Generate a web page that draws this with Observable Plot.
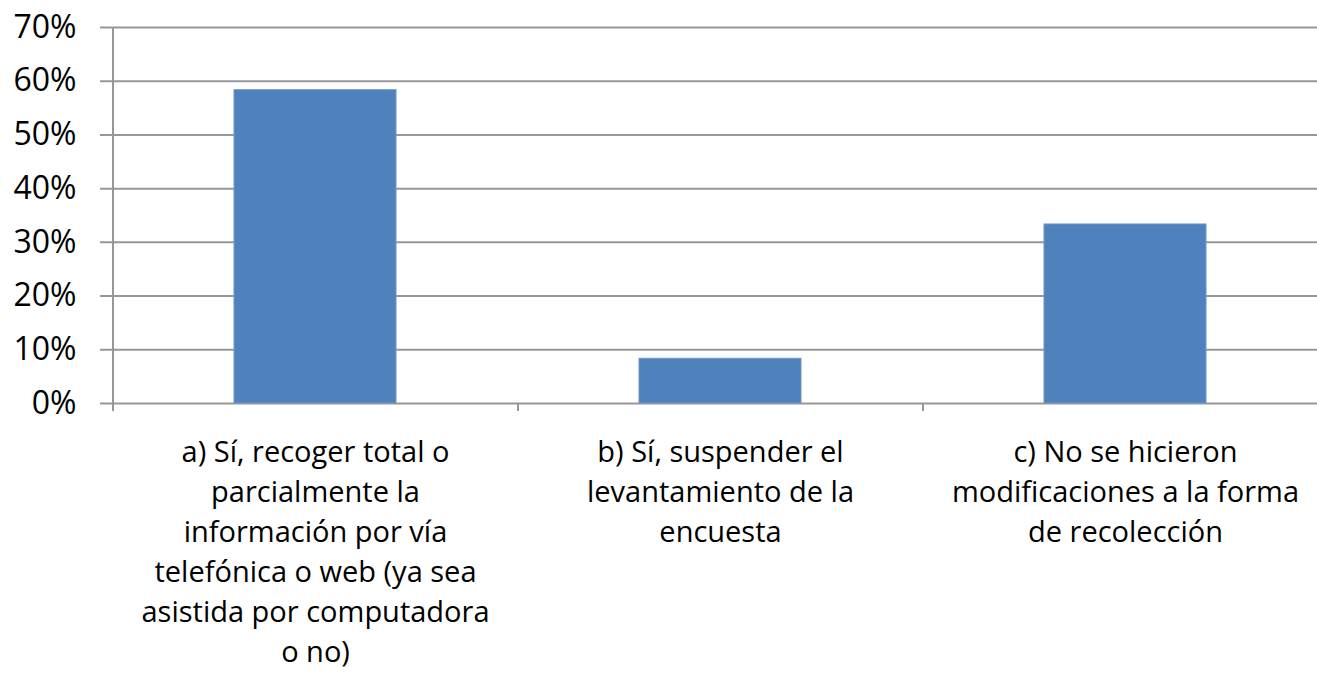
<!DOCTYPE html>
<html>
<head>
<meta charset="utf-8">
<script src="https://cdn.jsdelivr.net/npm/d3@7"></script>
<script src="https://cdn.jsdelivr.net/npm/@observablehq/plot@0.6"></script>
<style>
  html, body { margin: 0; padding: 0; background: #fff; }
  #chart svg { display: block; }
</style>
</head>
<body>
<div id="chart"></div>
<script>
const categories = [
  "a) Sí, recoger total o\nparcialmente la\ninformación por vía\ntelefónica o web (ya sea\nasistida por computadora\no no)",
  "b) Sí, suspender el\nlevantamiento de la\nencuesta",
  "c) No se hicieron\nmodificaciones a la forma\nde recolección"
];
const values = [0.5833, 0.0833, 0.3333];
const yTicks = [0, 0.1, 0.2, 0.3, 0.4, 0.5, 0.6, 0.7];

const data = categories.map((c, i) => ({ category: c, value: values[i] }));

const W = 1317, H = 694;
const mL = 113, mR = 0, mT = 27, mB = 291;
const xRange = [112.5, 1327.5];
const bw = (xRange[1] - xRange[0]) / categories.length;
const font = "'Open Sans', sans-serif";
const grid = "#979797";

const chart = Plot.plot({
  width: W,
  height: H,
  marginLeft: mL,
  marginRight: mR,
  marginTop: mT,
  marginBottom: mB,
  style: { fontFamily: font, color: "#000", background: "#fff" },
  x: { domain: categories, range: xRange, paddingInner: 0.6, paddingOuter: 0.3, align: 0.5, label: null },
  y: { domain: [0, 0.7], label: null },
  marks: [
    Plot.ruleY(yTicks, { stroke: grid, strokeWidth: 2, insetLeft: -13 }),
    Plot.ruleX([0], { x: () => categories[0], dx: -bw / 2, y1: 0.7, y2: 0, insetBottom: -8, stroke: grid, strokeWidth: 2 }),
    Plot.ruleX(categories.slice(1), { x: d => d, dx: -bw / 2, y1: 0, y2: 0, insetBottom: -8, stroke: grid, strokeWidth: 2 }),
    Plot.barY(data, { x: "category", y: "value", fill: "#4F81BD", stroke: "#6f96c9", strokeWidth: 1 }),
    Plot.axisY({ ticks: yTicks, tickFormat: d3.format(".0%"), tickSize: 0, tickPadding: 37, fontSize: 32, fill: "#000" }),
    Plot.axisX({ tickSize: 0, tickPadding: 30, fontSize: 29, lineHeight: 1.38, fill: "#000" })
  ]
});
document.getElementById("chart").appendChild(chart);
</script>
</body>
</html>
